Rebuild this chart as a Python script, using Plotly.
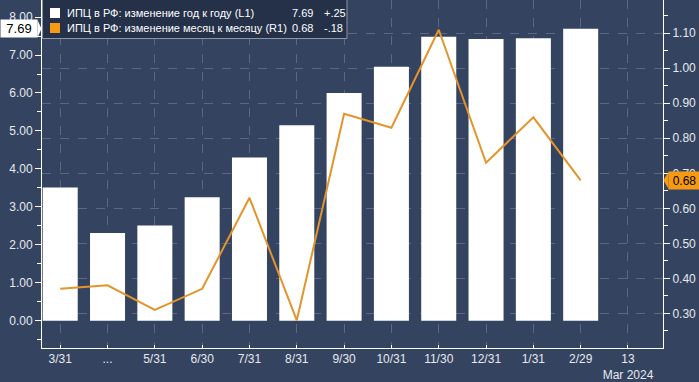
import plotly.graph_objects as go

# ---- data ----
x_labels = ["3/31", "...", "5/31", "6/30", "7/31", "8/31", "9/30", "10/31",
            "11/30", "12/31", "1/31", "2/29", "13<br>Mar 2024"]
cpi_yoy = [3.51, 2.31, 2.51, 3.25, 4.30, 5.15, 6.00, 6.69, 7.48, 7.42, 7.44, 7.69]
cpi_mom = [0.37, 0.38, 0.31, 0.37, 0.63, 0.28, 0.87, 0.83, 1.11, 0.73, 0.86, 0.68]
name_yoy = "ИПЦ в РФ: изменение год к году (L1)"
name_mom = "ИПЦ в РФ: изменение месяц к месяцу (R1)"
last_yoy, chg_yoy = "7.69", "+.25"
last_mom, chg_mom = "0.68", "-.18"
left_ticks = [0, 1, 2, 3, 4, 5, 6, 7, 8]
right_ticks = [0.3, 0.4, 0.5, 0.6, 0.7, 0.8, 0.9, 1.0, 1.1]

BG = "#344360"
GRID = "#5a6883"
ORANGE = "#E3942A"
LBL_ORANGE = "#F59A12"
FONT = "Liberation Sans"

PW, PH = 621, 348  # plot area size in px (for paper-coordinate helpers)


def px(x):
    return x / PW


def py(y):
    return 1 - y / PH


xi = list(range(len(x_labels)))

fig = go.Figure()
fig.add_trace(go.Bar(x=xi[:len(cpi_yoy)], y=cpi_yoy, name=name_yoy,
                     marker=dict(color="#ffffff", line=dict(width=0)),
                     width=0.74, yaxis="y", hoverinfo="y"))
fig.add_trace(go.Scatter(x=xi[:len(cpi_mom)], y=cpi_mom, name=name_mom,
                         mode="lines", line=dict(color=ORANGE, width=2),
                         yaxis="y2"))

tickfont = dict(family=FONT, size=12, color="#e6e9ef")
fig.update_layout(
    width=699, height=382,
    margin=dict(l=42, r=36, t=0, b=34, autoexpand=False),
    paper_bgcolor=BG, plot_bgcolor=BG,
    font=dict(family=FONT, size=12, color="#e6e9ef"),
    showlegend=False,
    xaxis=dict(range=[-0.385, 12.74], tickmode="array", tickvals=xi,
               ticktext=x_labels, showgrid=True, gridcolor=GRID,
               griddash="dash", gridwidth=1, zeroline=False,
               showline=True, linecolor="#ffffff", linewidth=1,
               ticks="inside", ticklen=3, tickcolor="#ffffff",
               automargin=False, tickfont=tickfont),
    yaxis=dict(range=[-0.72, 8.45], tickmode="array", tickvals=left_ticks,
               tickformat=".2f", showgrid=False, zeroline=False,
               showline=True, linecolor="#ffffff", linewidth=1,
               ticks="outside", ticklen=6, tickcolor="#ffffff",
               automargin=False,
               minor=dict(dtick=0.5, ticks="outside", ticklen=4,
                          tickcolor="#ffffff", showgrid=False),
               tickfont=tickfont),
    yaxis2=dict(range=[0.201, 1.195], overlaying="y", side="right",
                tickmode="array", tickvals=right_ticks, tickformat=".2f",
                showgrid=True, gridcolor=GRID, griddash="dash",
                zeroline=False, showline=True, linecolor="#ffffff",
                linewidth=1, ticks="outside", ticklen=6,
                tickcolor="#ffffff", automargin=False,
                minor=dict(dtick=0.05, ticks="outside", ticklen=4,
                           tickcolor="#ffffff", showgrid=False),
                tickfont=tickfont),
)

# ---- legend box (drawn to match the reference's compact layout) ----
fig.add_shape(type="rect", xref="paper", yref="paper",
              x0=px(0.5), x1=px(305), y0=py(-2), y1=py(38.5),
              fillcolor="#243149", line=dict(color="#8c95a6", width=1),
              layer="above")
legend_rows = [(name_yoy, "#ffffff", last_yoy, chg_yoy),
               (name_mom, LBL_ORANGE, last_mom, chg_mom)]
for row, (nm, col, v, c) in enumerate(legend_rows):
    cy = 13 + row * 15
    fig.add_shape(type="rect", xref="paper", yref="paper",
                  x0=px(8), x1=px(18), y0=py(cy - 5), y1=py(cy + 5),
                  fillcolor=col, line=dict(width=0), layer="above")
    for xx, t in [(23, nm), (248, v), (280, c)]:
        fig.add_annotation(xref="paper", yref="paper", x=px(xx), y=py(cy),
                           text=t, showarrow=False, xanchor="left",
                           yanchor="middle",
                           font=dict(family=FONT, size=11, color="#ffffff"))

# ---- last-value labels on the axes ----
fig.add_annotation(xref="paper", yref="y", x=px(-4), y=cpi_yoy[-1],
                   text=last_yoy, showarrow=False, xanchor="right",
                   yanchor="middle", bgcolor="#ffffff", width=34, height=15,
                   borderpad=1, align="center",
                   font=dict(family=FONT, size=13, color="#000000"))
fig.add_shape(type="path", xref="paper", yref="y",
              path=f"M {px(-4.5)} {cpi_yoy[-1]+0.23} L {px(-0.5)} {cpi_yoy[-1]} "
                   f"L {px(-4.5)} {cpi_yoy[-1]-0.23} Z",
              fillcolor="#ffffff", line=dict(width=0))
fig.add_annotation(xref="paper", yref="y2", x=1 + px(5), y=cpi_mom[-1],
                   text=last_mom, showarrow=False, xanchor="left",
                   yanchor="middle", bgcolor=LBL_ORANGE, width=29, height=15,
                   borderpad=1, align="center",
                   font=dict(family=FONT, size=12, color="#000000"))
fig.add_shape(type="path", xref="paper", yref="y2",
              path=f"M {1+px(5.5)} {cpi_mom[-1]+0.025} L {1+px(0.5)} {cpi_mom[-1]} "
                   f"L {1+px(5.5)} {cpi_mom[-1]-0.025} Z",
              fillcolor=LBL_ORANGE, line=dict(width=0))

fig.write_html("out.html", config={"displayModeBar": False},
               post_script="document.body.style.margin='0';"
                           "document.body.style.background='" + BG + "';")
